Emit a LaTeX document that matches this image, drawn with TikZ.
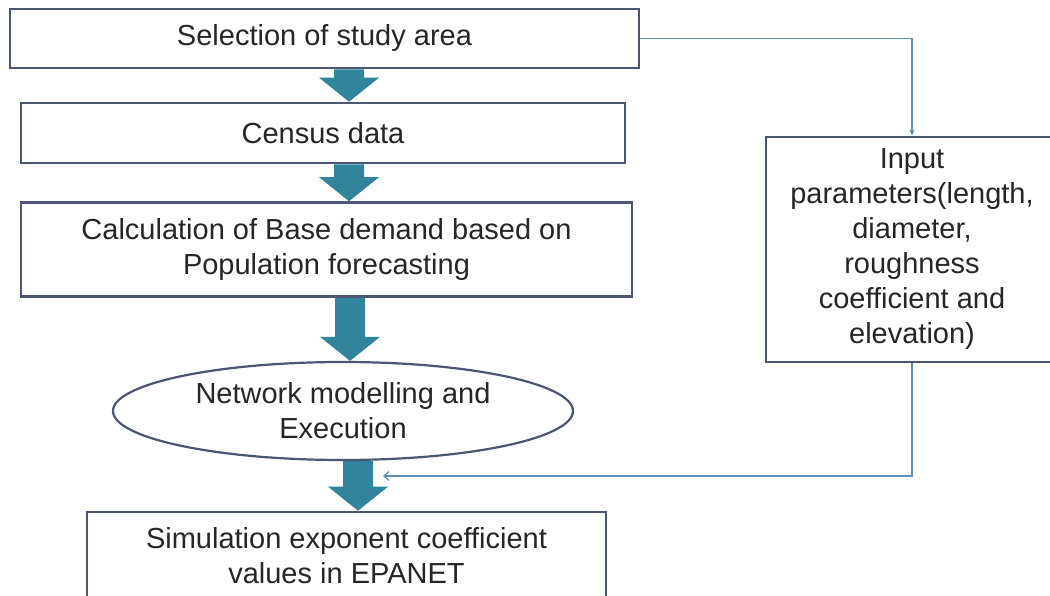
\documentclass[tikz,border=0pt]{standalone}
\usepackage{fontspec}
\setmainfont{Liberation Sans}
\usetikzlibrary{arrows.meta,shapes.geometric,calc,backgrounds}
\definecolor{boxline}{HTML}{4B5673}
\definecolor{arrfill}{HTML}{31849B}
\definecolor{connline}{HTML}{5E8FAE}
\definecolor{txt}{HTML}{262626}
\tikzset{
  stepbox/.style={draw=boxline, line width=2.6pt, fill=white, rectangle, inner sep=0pt, align=center, text=txt,
    font=\fontsize{29}{35}\selectfont},
  ovalbox/.style={draw=boxline, line width=2.2pt, fill=white, ellipse, inner sep=0pt, align=center, text=txt,
    font=\fontsize{29}{35}\selectfont},
  fatfill/.style={fill=arrfill},
  conn/.style={draw=connline, line width=1.3pt}
}
\newcommand\bigarrow[3]{%
  \fill[fatfill] let \p1=(#1), \p2=(#2) in
    ({#3pt-15pt},\y1) -- ({#3pt-15pt},{\y2+24pt}) -- ({#3pt-30pt},{\y2+24pt}) --
    ({#3pt},\y2) -- ({#3pt+30pt},{\y2+24pt}) -- ({#3pt+15pt},{\y2+24pt}) --
    ({#3pt+15pt},\y1) -- cycle;}
\begin{document}
\begin{tikzpicture}[x=1pt,y=-1pt]
\useasboundingbox (0,0) rectangle (1050,596);
\node[stepbox, minimum width=629pt, minimum height=59pt] (b1) at (324.5,38.5) {Selection of study area};
\node[stepbox, minimum width=604pt, minimum height=60pt] (b2) at (323,133) {Census data};
\node[stepbox, minimum width=611pt, minimum height=94pt] (b3) at (326.5,249.5) {Calculation of Base demand based on\\Population forecasting};
\node[ovalbox, minimum width=460pt, minimum height=98pt] (ov) at (343,411) {Network modelling and\\Execution};
\node[stepbox, minimum width=519pt, minimum height=88pt] (b5) at (346.5,556) {Simulation exponent coefficient\\values in EPANET};
\node[stepbox, minimum width=292pt, minimum height=225pt] (inp) at (912,249.5) {Input\\parameters(length,\\diameter,\\roughness\\coefficient and\\elevation)};
\coordinate (j) at (383,476);
\begin{pgfonlayer}{background}
\fill[white] (0,0) rectangle (1050,596);
\bigarrow{b1.south}{b2.north}{349}
\bigarrow{b2.south}{b3.north}{349}
\bigarrow{b3.south}{ov.north}{350}
\bigarrow{ov.south}{b5.north}{358}
\end{pgfonlayer}
\draw[conn, -{Stealth[length=6pt,width=5pt]}] (b1.east) -| (inp.north);
\draw[conn, -{Straight Barb[length=5pt,width=9pt]}] (inp.south) |- (j);
\end{tikzpicture}
\end{document}
